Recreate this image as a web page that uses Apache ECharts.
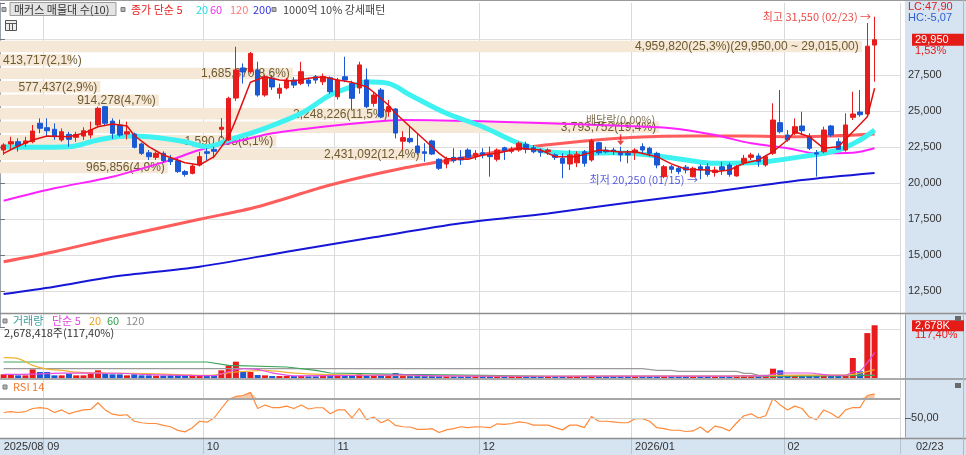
<!DOCTYPE html>
<html><head><meta charset="utf-8">
<script src="https://cdn.jsdelivr.net/npm/echarts/dist/echarts.min.js"></script>
<style>html,body{margin:0;padding:0;background:#fff;overflow:hidden}#c{width:966px;height:455px}</style>
</head><body><div id="c"></div>
<script>
// ---------------- data ----------------
const dates = [
'2025/08/22','2025/08/25','2025/08/26','2025/08/27','2025/08/28','2025/08/29',
'2025/09/01','2025/09/02','2025/09/03','2025/09/04','2025/09/05','2025/09/08','2025/09/09','2025/09/10','2025/09/11','2025/09/12',
'2025/09/15','2025/09/16','2025/09/17','2025/09/18','2025/09/19','2025/09/22','2025/09/23','2025/09/24','2025/09/25','2025/09/26','2025/09/29','2025/09/30',
'2025/10/01','2025/10/02','2025/10/10','2025/10/13','2025/10/14','2025/10/15','2025/10/16','2025/10/17','2025/10/20','2025/10/21','2025/10/22','2025/10/23','2025/10/24',
'2025/10/27','2025/10/28','2025/10/29','2025/10/30','2025/10/31',
'2025/11/03','2025/11/04','2025/11/05','2025/11/06','2025/11/07','2025/11/10','2025/11/11','2025/11/12','2025/11/13','2025/11/14',
'2025/11/17','2025/11/18','2025/11/19','2025/11/20','2025/11/21','2025/11/24','2025/11/25','2025/11/26','2025/11/27','2025/11/28',
'2025/12/01','2025/12/02','2025/12/03','2025/12/04','2025/12/05','2025/12/08','2025/12/09','2025/12/10','2025/12/11','2025/12/12',
'2025/12/15','2025/12/16','2025/12/17','2025/12/18','2025/12/19','2025/12/22','2025/12/23','2025/12/24','2025/12/26','2025/12/29','2025/12/30',
'2026/01/02','2026/01/05','2026/01/06','2026/01/07','2026/01/08','2026/01/09','2026/01/12','2026/01/13','2026/01/14','2026/01/15','2026/01/16',
'2026/01/19','2026/01/20','2026/01/21','2026/01/22','2026/01/23','2026/01/26','2026/01/27','2026/01/28','2026/01/29','2026/01/30',
'2026/02/02','2026/02/03','2026/02/04','2026/02/05','2026/02/06','2026/02/09','2026/02/10','2026/02/11','2026/02/12','2026/02/13',
'2026/02/19','2026/02/20','2026/02/23'];

const opens = [22290,22710,22870,22760,22870,24150,23840,23730,22990,23380,
23170,23260,23330,24030,25300,24300,24030,23400,23400,22710,
22100,21780,22060,21710,21550,20790,20670,21250,22170,22340,
23730,22990,25900,27990,27730,27850,26110,27290,26230,26600,
27150,26920,27150,27380,27030,27310,25990,27380,26920,26600,
27150,25530,26460,24950,25140,22900,23100,22570,22170,22920,
21645,21320,21780,21780,22290,21900,22100,21950,21645,22450,
22200,22290,22690,22450,22240,22170,21950,21715,21320,21400,
22170,21600,22800,22290,22290,22120,22060,22100,22520,22410,
22060,20440,21130,21020,21100,20440,21130,21130,20720,21130,
21250,20490,21410,21780,21875,21250,22060,24190,23333,23450,
23960,23215,22100,22170,23960,22870,22290,24560,24930,24790,
29580];
const highs = [22760,23210,23100,23210,24030,24490,24490,24140,23790,23560,
23560,23870,24260,25300,25350,24490,24400,24260,23500,22800,
22290,22200,22200,21950,21710,20900,21300,22170,22410,22520,
24510,25990,29460,28300,29100,28420,27500,27500,26900,27300,
27350,28420,27300,27500,27600,27400,27300,28770,27100,28420,
27960,26300,26600,25760,25200,23600,23910,23450,22760,23000,
21710,21830,22410,22290,22410,22290,22410,22520,22400,22520,
22520,22870,22870,22640,22410,22410,22060,22060,22290,22200,
22290,23070,22870,22520,22450,22520,22290,22410,22760,22520,
22170,21250,21250,21130,21250,21130,21300,21370,21130,21480,
21410,21250,21950,22100,22060,21950,25535,26460,23680,24490,
24950,23450,22290,23910,24030,23100,24840,26340,26460,31110,
31550];
const lows = [21950,22290,22180,22520,22760,23450,23210,23000,22870,22520,
22870,22990,23100,23950,23950,23070,23210,23030,22400,21950,
21600,21600,21410,21250,20700,20440,20600,21150,21600,21710,
23120,22900,25700,26900,27600,25990,25990,26460,25850,26500,
26600,26800,26700,26900,26800,26200,25800,27000,25070,26200,
25200,25300,24500,24600,23100,22300,22760,21950,21480,21940,
20900,21020,21410,21250,21710,21600,21710,20440,21500,21600,
22060,22170,22060,22060,21830,21950,21600,20330,20900,21100,
21130,21480,21950,22060,21950,21480,21370,21600,22060,21830,
21020,20330,20670,20610,20670,20390,20250,20440,20440,20560,
20440,20440,21250,21600,21130,21130,21950,23450,22870,23333,
23333,22290,20440,22060,23215,22290,22170,24375,24600,24600,
27030];
const closes = [22640,22870,22570,22920,23610,23800,23630,23220,23560,23030,
23380,23630,23680,25190,24150,23450,23330,23560,22480,22060,
21830,22060,21550,21480,20790,20600,21180,21830,22060,22200,
23870,25880,27850,27710,29000,26110,27290,26670,26580,27150,
26800,27730,26920,27150,27380,26340,27150,27150,25880,28200,
25300,26110,24600,25300,23470,23150,22870,22100,22060,22010,
21020,21645,21550,21600,21780,22060,21950,21830,22290,22240,
22340,22760,22340,22170,22130,22290,21780,21370,21950,22000,
21370,22940,22100,22170,22200,21950,21950,22290,22290,22060,
21250,21130,20950,20790,20900,21020,20900,20600,20900,20900,
20600,21130,21715,21950,21480,21830,24375,23560,22990,23910,
23630,22410,22010,23680,23333,22340,24030,24790,24740,29500,
29950];
const volumes = [186000,186000,135000,135000,440000,305000,305000,135000,135000,220000,
135000,135000,220000,390000,220000,186000,186000,135000,186000,135000,
135000,120000,120000,135000,150000,120000,100000,120000,100000,120000,
390000,627000,830000,305000,305000,150000,135000,100000,100000,100000,
100000,100000,85000,85000,100000,100000,135000,100000,135000,186000,
150000,100000,135000,100000,254000,120000,100000,135000,100000,120000,
100000,85000,85000,85000,85000,85000,90000,100000,85000,80000,
75000,90000,80000,75000,70000,75000,80000,100000,90000,85000,
85000,110000,90000,75000,70000,80000,75000,80000,85000,80000,
90000,85000,75000,70000,75000,80000,85000,90000,85000,80000,
100000,120000,135000,135000,110000,110000,474000,390000,150000,130000,
150000,120000,135000,150000,120000,100000,150000,1016000,340000,2281447,
2678418];
const rsi14 = [55.8,56.8,55.8,56.8,60,61,60,55.8,58.5,54.4,
56.8,58.5,59,66,58.5,54,52.7,53.4,46.6,45,
44.2,44.2,42.2,40.8,37,35.4,39.8,46.6,45.6,50,
60,69.7,72.7,73.7,77,60,63.6,61,61,62.5,
60,63.6,59.5,60.8,60.8,54.4,58.5,58.5,50,60,
48.3,51,45,48.3,42.2,40.8,40.5,38.1,38.1,38.8,
34.7,37.5,38.8,40.8,39.8,40.8,40.5,39.8,43.9,43.2,
44.2,46,45,42.5,42.5,42.5,39.8,37.5,42.5,42.5,
39.8,51.7,46.6,46.6,46,45,45,49.3,49.3,46.6,
39.8,38.8,37.1,37.1,35.8,36.4,40.5,34.7,41.5,39.8,
36.4,45,52.4,54.4,50,52.4,70.7,63.6,58.5,62.5,
60,51,48.3,58.5,55,50,58.5,61,61,73.7,
75.4];

// moving averages: [candle index, value]
const ma5Pts = [[0,22060],[2,22570],[4,22985],[6,23260],[9,23215],[11,23450],[13,23910],[15,24100],[17,23960],[18,23300],[20,22520],[22,21945],[25,21410],[27,21250],[29,21830],[31,23190],[32,24400],[34,27000],[36,27380],[38,27150],[40,27080],[42,27270],[44,27380],[46,27150],[48,26990],[50,26690],[51,26300],[53,25420],[54,24840],[56,23910],[58,22985],[60,22060],[61,21700],[64,21645],[66,21945],[68,22060],[71,22410],[74,22290],[76,21830],[79,21830],[82,22290],[85,22150],[87,22170],[90,21830],[92,21330],[94,20950],[97,20900],[98,20780],[100,20900],[102,21370],[104,21600],[106,22170],[108,22985],[109,23560],[111,23215],[113,22410],[115,22520],[117,23560],[119,24600],[120,26580]];
const ma20Pts = [[0,22520],[4,22480],[9,22520],[13,22985],[17,23260],[20,23215],[25,22870],[28,22520],[31,22985],[36,23800],[41,24840],[45,26110],[48,26690],[50,27030],[53,26920],[56,26110],[61,24840],[66,23910],[71,22760],[75,22170],[80,22060],[84,22100],[89,21945],[94,21600],[98,21370],[103,21410],[105,21480],[110,21830],[115,22290],[118,22985],[120,23680]];
const ma60Pts = [[0,18770],[7,19630],[15,20440],[23,21600],[27,22290],[33,22985],[37,23450],[44,23910],[51,24260],[55,24375],[68,24260],[82,24030],[86,23950],[92,23800],[98,23330],[103,22755],[108,22410],[112,22060],[117,22100],[120,22410]];
const ma120Pts = [[0,14535],[7,15230],[15,16160],[27,17480],[35,18350],[45,19860],[55,21020],[63,21715],[71,22410],[79,22870],[87,23170],[95,23260],[102,23260],[110,23215],[120,23400]];
const ma200Pts = [[0,12290],[7,12800],[15,13490],[27,14190],[39,15230],[51,16230],[63,17200],[75,17890],[87,18700],[98,19400],[110,20210],[120,20700]];

const volMa5Pts = [[0,186000],[4,200000],[8,250000],[12,250000],[16,240000],[20,170000],[26,130000],[29,120000],[31,330000],[33,470000],[35,440000],[37,260000],[40,110000],[50,140000],[55,160000],[60,110000],[70,90000],[100,100000],[105,120000],[106,200000],[107,254000],[111,254000],[114,140000],[116,140000],[117,310000],[118,360000],[119,780000],[120,1290000]];
const volMa20Pts = [[0,1033000],[2,982000],[4,643000],[6,450000],[8,390000],[10,300000],[14,254000],[20,220000],[28,135000],[32,305000],[36,390000],[40,250000],[44,186000],[52,130000],[70,90000],[100,100000],[110,150000],[116,150000],[118,250000],[120,423000]];
const volMa60Pts = [[0,813000],[28,813000],[31,643000],[39,559000],[43,390000],[45,254000],[55,186000],[66,135000],[75,85000],[100,85000],[110,100000],[120,135000]];
const volMa120Pts = [[0,474000],[88,474000],[90,390000],[92,390000],[93,340000],[101,340000],[102,237000],[103,237000],[104,135000],[120,135000]];

// volume profile (매물대)
const bandLows  = [20600,21535,22470,23405,24340,25275,26210,27145,28080,29015];
const bandHighs = [21535,22470,23405,24340,25275,26210,27145,28080,29015,29950];
const bandVols  = [965856,2431092,1590068,3793752,2248226,914278,577437,1685370,413717,4959820];

const priceTicks = [12500,15000,17500,20000,22500,25000,27500];
const exDivDates = ['2025/12/29'];
const exDivText = '배당락(0,00%)';

// ---------------- helpers ----------------
const FONT = '"Liberation Sans","Noto Sans CJK KR",sans-serif';
const KFONT = '"Noto Sans CJK KR","Liberation Sans",sans-serif';
const UP = '#e81c1c', DOWN = '#1a58d4';
function fmtInt(n){ const s = Math.round(Math.abs(n)).toString().replace(/\B(?=(\d{3})+(?!\d))/g, ','); return (n<0?'-':'')+s; }
function fmtDec(n,d){ const s = Math.abs(n).toFixed(d).split('.'); return (n<0?'-':'')+fmtInt(+s[0])+','+s[1]; }
const mctx = document.createElement('canvas').getContext('2d');
mctx.font = '12px ' + FONT;
function tw(s){ return mctx.measureText(s).width; }

const N = dates.length;
const cats = dates.concat(['','','']);
const monthStart = new Set();
dates.forEach((d,i)=>{ if(i===0 || d.slice(0,7)!==dates[i-1].slice(0,7)) monthStart.add(i); });
const splitInt = (i)=> monthStart.has(i) && i>0;
const candle = dates.map((d,i)=>[opens[i], closes[i], lows[i], highs[i]]);

const lastClose = closes[N-1], prevClose = closes[N-2];
let hiIdx = 0, loIdx = 0;
highs.forEach((h,i)=>{ if(h>highs[hiIdx]) hiIdx=i; });
lows.forEach((l,i)=>{ if(l<lows[loIdx]) loIdx=i; });
const totalBand = bandVols.reduce((a,b)=>a+b,0);
const bandLabels = bandVols.map((v,k)=>{
  let s = fmtInt(v)+'('+fmtDec(v/totalBand*100,1)+'%)';
  if(lastClose>=bandLows[k] && lastClose<=bandHighs[k]) s += '('+fmtDec(bandHighs[k],2)+' ~ '+fmtDec(bandLows[k],2)+')';
  return s;
});

const chart = echarts.init(document.getElementById('c'), null, {renderer:'canvas', width:966, height:455});

const catAxisBase = (grid)=>({
  type:'category', gridIndex:grid, data:cats, boundaryGap:true,
  axisLine:{show:false}, axisTick:{show:false}, axisLabel:{show:false},
  splitLine:{show:true, interval:splitInt, lineStyle:{color:'#d9d9d9', width:1}}
});
const xAxisRsi = catAxisBase(2);
xAxisRsi.axisTick = {show:true, interval:splitInt, length:17, lineStyle:{color:'#b8c2cc'}};
xAxisRsi.axisLabel = {show:true, interval:(i)=>monthStart.has(i), align:'left', margin:4, color:'#333',
  fontSize:11, fontFamily:FONT, hideOverlap:false,
  formatter:(v,i)=> (i===0 || v.slice(5,7)==='01') ? v.slice(0,7) : v.slice(5,7)};

const lineS = (name, pts, color, width, z, xi, yi, smooth)=>({
  name, type:'line', data:pts, xAxisIndex:xi, yAxisIndex:yi, symbol:'none', smooth:smooth,
  lineStyle:{color, width}, z, silent:true, animation:false
});

const option = {
  animation:false,
  backgroundColor:'#ffffff',
  grid:[
    {left:0, top:3, width:900, height:324},
    {left:0, top:315, width:900, height:63},
    {left:0, top:380, width:900, height:57}
  ],
  xAxis:[
    catAxisBase(0),
    {type:'value', gridIndex:0, min:0, max:5180000, show:false},
    catAxisBase(1),
    xAxisRsi
  ],
  yAxis:[
    {type:'value', gridIndex:0, position:'right', offset:5, min:10000, max:32500, interval:2500,
      axisLine:{show:true, lineStyle:{color:'#9aa3ad'}}, axisTick:{show:true, length:5, lineStyle:{color:'#777'}},
      axisLabel:{formatter:(v)=> priceTicks.includes(v) ? fmtInt(v) : '', color:'#333', fontSize:11, fontFamily:FONT, margin:3},
      splitLine:{show:true, showMinLine:false, showMaxLine:false, lineStyle:{color:'#dedede'}}},
    {type:'value', gridIndex:1, position:'right', offset:5, min:0, max:3200000, interval:2500000,
      axisLine:{show:true, lineStyle:{color:'#9aa3ad'}}, axisTick:{show:false}, axisLabel:{show:false},
      splitLine:{show:true, showMinLine:false, showMaxLine:false, lineStyle:{color:'#dedede'}}},
    {type:'value', gridIndex:2, position:'right', offset:5, min:30, max:90, interval:20,
      axisLine:{show:true, lineStyle:{color:'#9aa3ad'}}, axisTick:{show:false},
      axisLabel:{formatter:(v)=> v===50 ? '–50,00' : '', color:'#333', fontSize:11, fontFamily:FONT, margin:0},
      splitLine:{show:false}}
  ],
  series:[
    {type:'custom', name:'bands', xAxisIndex:1, yAxisIndex:0, z:1, silent:true,
      data: bandVols.map((v,k)=>[v, bandLows[k], bandHighs[k]]),
      encode:{x:0, y:[1,2]},
      renderItem:(params, api)=>{
        const v = api.value(0), lo = api.value(1), hi = api.value(2);
        const p0 = api.coord([0, hi]), p1 = api.coord([v, lo]);
        const y0 = p0[1] + 1, y1 = p1[1] - 1;
        const txt = bandLabels[params.dataIndex];
        const tx = Math.max(p1[0] - 3, tw(txt) + 3);
        return {type:'group', children:[
          {type:'rect', shape:{x:p0[0], y:y0, width:p1[0]-p0[0], height:y1-y0}, style:{fill:'#f6e8d6'}},
          {type:'text', style:{text:txt, x:tx, y:(y0+y1)/2+0.5, align:'right', verticalAlign:'middle', fill:'#6e5a30', font:'12px '+FONT}}
        ]};
      }},
    lineS('MA200', ma200Pts, '#1616d6', 2, 2, 0, 0, 0.3),
    lineS('MA120', ma120Pts, '#ff5c5c', 3, 2, 0, 0, 0.3),
    lineS('MA60', ma60Pts, '#ff22ff', 2, 2, 0, 0, 0.3),
    lineS('MA20', ma20Pts, '#3ef2f2', 5, 2, 0, 0, 0.35),
    {type:'candlestick', name:'price', xAxisIndex:0, yAxisIndex:0, data:candle, barWidth:5, z:3,
      itemStyle:{color:UP, color0:DOWN, borderColor:UP, borderColor0:DOWN, borderWidth:1}},
    lineS('MA5', ma5Pts, '#e01010', 1.5, 4, 0, 0, false),
    {type:'scatter', name:'hi', xAxisIndex:0, yAxisIndex:0, z:6, silent:true,
      data:[[hiIdx, highs[hiIdx]]], symbolSize:1, itemStyle:{color:'rgba(0,0,0,0)'},
      label:{show:true, position:'left', distance:3, color:'#e41b17', fontSize:11, fontFamily:KFONT,
        formatter:()=> '최고 '+fmtInt(highs[hiIdx])+' ('+dates[hiIdx].slice(5)+') →'}},
    {type:'scatter', name:'lo', xAxisIndex:0, yAxisIndex:0, z:6, silent:true,
      data:[[loIdx, lows[loIdx]]], symbolSize:1, itemStyle:{color:'rgba(0,0,0,0)'},
      label:{show:true, position:'left', distance:2, color:'#2a32d8', fontSize:11, fontFamily:KFONT,
        formatter:()=> '최저 '+fmtInt(lows[loIdx])+' ('+dates[loIdx].slice(5)+') →'}},
    {type:'scatter', name:'exdiv', xAxisIndex:0, yAxisIndex:0, z:6, silent:true,
      data: exDivDates.map(d=>{ const i = dates.indexOf(d); return [i, highs[i]]; }),
      symbol:'path://M4,0 L6,0 L6,7 L10,7 L5,12 L0,7 L4,7 Z', symbolSize:[7,11], symbolOffset:[0,-7],
      itemStyle:{color:'#e41b17'},
      label:{show:true, position:'top', distance:9, color:'#5e4c2a', fontSize:11, fontFamily:KFONT, formatter:()=>exDivText}},
    {type:'bar', name:'volume', xAxisIndex:2, yAxisIndex:1, barWidth:6, z:2,
      data: volumes.map((v,i)=>({value:v, itemStyle:{color: closes[i]>=opens[i] ? UP : DOWN}}))},
    lineS('VMA120', volMa120Pts, '#9a9a9a', 1.2, 3, 2, 1, false),
    lineS('VMA60', volMa60Pts, '#3aa55a', 1.2, 3, 2, 1, false),
    lineS('VMA20', volMa20Pts, '#f2b233', 1.2, 3, 2, 1, 0.3),
    lineS('VMA5', volMa5Pts, '#e44de4', 1.2, 3, 2, 1, 0.3),
    {type:'line', name:'rsiHi', xAxisIndex:3, yAxisIndex:2, data: rsi14.map(v=>Math.max(v,70)), symbol:'none',
      lineStyle:{width:0}, areaStyle:{origin:70, color:'rgba(243,150,95,0.75)'}, z:2, silent:true},
    {type:'line', name:'RSI', xAxisIndex:3, yAxisIndex:2, data: rsi14, symbol:'none',
      lineStyle:{color:'#ff8a3a', width:1.2}, z:3, silent:true,
      markLine:{silent:true, symbol:['none','none'], label:{show:false},
        data:[{yAxis:70, lineStyle:{color:'#a6a6a6', width:2, type:'solid'}},
              {yAxis:50, lineStyle:{color:'#d2d2d2', width:1, type:'solid'}}]}}
  ]
};
chart.setOption(option);

// ---------------- texts / panels ----------------
function T(x, y, text, fill, font, align){
  return {type:'text', x, y, z:50, silent:true, style:{text, fill, font: font || ('11px '+KFONT), align: align||'left', verticalAlign:'middle'}};
}
function R(x, y, w, h, fill, stroke, z){
  return {type:'rect', z: z===undefined?40:z, silent:true, shape:{x, y, width:w, height:h}, style:{fill, stroke: stroke||null, lineWidth:1}};
}
function L(x1, y1, x2, y2, color, w, z){
  return {type:'line', z: z===undefined?45:z, silent:true, shape:{x1,y1,x2,y2}, style:{stroke:color, lineWidth:w}};
}
const sq = (x,y)=> R(x, y, 4, 4, '#b4b4b4', '#7a7a7a');

const py = chart.convertToPixel({yAxisIndex:0}, lastClose);
const vy = chart.convertToPixel({yAxisIndex:1}, volumes[N-1]);
const minLow = lows[loIdx], maxHigh = highs[hiIdx];
const LC = (lastClose - minLow)/minLow*100;
const HC = (lastClose - maxHigh)/maxHigh*100;
const chg = (lastClose - prevClose)/prevClose*100;
const vRatio = volumes[N-1]/volumes[N-2]*100;

const els = [
  // backgrounds
  R(905, 0, 61, 455, '#d6e3f1', null, -1),
  R(0, 439, 966, 16, '#d6e3f1', null, -1),
  // borders / separators
  L(0, 0.5, 966, 0.5, '#9a9a9a', 1),
  L(0, 313.5, 966, 313.5, '#8f8f8f', 1.5),
  L(0, 379, 966, 379, '#8f8f8f', 1.5),
  L(0, 438.5, 966, 438.5, '#8f8f8f', 1.5),
  L(963.5, 0, 963.5, 455, '#b0b8c2', 1),
  // main legend
  sq(2, 7.5),
  R(10, 2.5, 106, 13, '#e4e4e4', '#9c9c9c'),
  T(14, 9.5, '매커스 매물대 수(10)', '#333'),
  sq(121, 7.5),
  T(131, 9.5, '종가 단순 5', '#e81c1c'),
  T(196, 9.5, '20', '#25dde8'),
  T(210, 9.5, '60', '#ee33ee'),
  T(230, 9.5, '120', '#ff7a7a'),
  T(253, 9.5, '200', '#3535e0'),
  sq(272, 7.5),
  T(283, 9.5, '1000억 10% 강세패턴', '#444'),
  R(5.5, 20.5, 11, 10, '#eeeeee', '#555'),
  L(5.5, 23.5, 16.5, 23.5, '#555', 1),
  L(9.5, 23.5, 9.5, 30.5, '#555', 1),
  L(12.5, 23.5, 12.5, 30.5, '#555', 1),
  // volume legend
  sq(3, 319),
  T(13, 321, '거래량', '#3a9d9d'),
  T(52, 321, '단순 5', '#e044e0'),
  T(89, 321, '20', '#f0a020'),
  T(107, 321, '60', '#30a050'),
  T(126, 321, '120', '#8a8a8a'),
  T(4, 333, fmtInt(volumes[N-1])+'주('+fmtDec(vRatio,2)+'%)', '#333'),
  // rsi legend
  sq(3, 385),
  T(13, 387, 'RSI 14', '#f07a30'),
  // right side
  T(908, 7, 'LC:'+fmtDec(LC,2), '#e02020', '11px '+FONT),
  T(908, 18, 'HC:'+fmtDec(HC,2), '#2f5fd0', '11px '+FONT),
  R(912, py-6, 52, 12, '#e41b17', null, 48),
  T(915, py, fmtInt(lastClose), '#ffffff', '11px '+FONT),
  T(915, py+11, fmtDec(chg,2)+'%', '#e41b17', '11px '+FONT),
  R(912, vy-5, 52, 11, '#e41b17', null, 48),
  T(915, vy+0.5, fmtInt(Math.round(volumes[N-1]/1000))+'K', '#ffffff', '11px '+FONT),
  T(915, vy+10, fmtDec(vRatio,2)+'%', '#e41b17', '11px '+FONT),
  R(955, 316, 6, 5, '#6a6a6a', null, 48),
  R(955, 383, 6, 5, '#6a6a6a', null, 48),
  T(916, 447, dates[N-1].slice(5).replace('-','/'), '#333', '11px '+FONT)
];
chart.setOption({graphic:{elements:els}});
</script></body></html>
